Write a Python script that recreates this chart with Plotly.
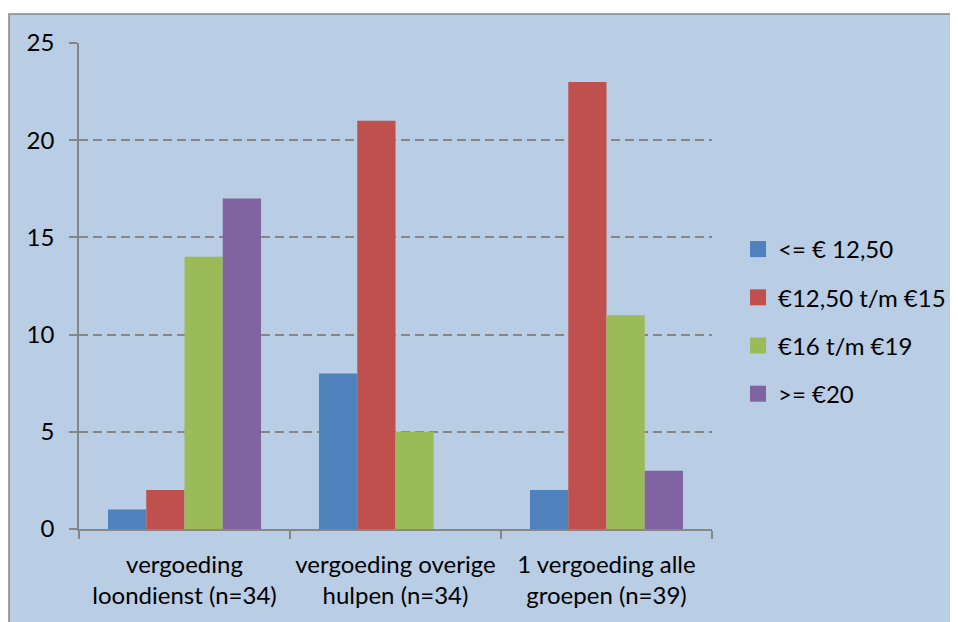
import plotly.graph_objects as go

categories = ["vergoeding<br>loondienst (n=34)",
              "vergoeding overige<br>hulpen (n=34)",
              "1 vergoeding alle<br>groepen (n=39)"]
series_names = ["<= € 12,50", "€12,50 t/m €15", "€16 t/m €19", ">= €20"]
s1 = [1, 8, 2]
s2 = [2, 21, 23]
s3 = [14, 5, 11]
s4 = [17, 0, 3]
colors = ["#4F81BD", "#C0504D", "#9BBB59", "#8064A2"]
y_ticks = [0, 5, 10, 15, 20, 25]

OFF = 8  # page body margin
W, H = 958 - OFF, 622 - OFF
L, R, T, B = 79 - OFF, 712 - OFF, 43 - OFF, 529 - OFF
pw, ph = R - L, B - T

FONT = "Lato"
FS = 24
fig = go.Figure()
for i, (name, vals) in enumerate(zip(series_names, [s1, s2, s3, s4])):
    fig.add_trace(go.Bar(x=categories, y=vals, name=name,
                         marker=dict(color=colors[i], line=dict(width=0)),
                         showlegend=False))
for i, name in enumerate(series_names):
    fig.add_trace(go.Scatter(x=[None], y=[None], mode="markers", name=name,
                             legendgroup=f"g{i}",
                             marker=dict(symbol="square", size=16, color=colors[i])))

fig.add_shape(type="rect", xref="paper", yref="paper",
              x0=(9 - OFF - L) / pw, x1=(W + 20 - L) / pw,
              y0=(B - (H + 20)) / ph, y1=(B - (14 - OFF)) / ph,
              fillcolor="#B9CDE5", line=dict(color="#878787", width=1.5),
              layer="below")

fig.update_layout(
    width=W, height=H,
    margin=dict(l=L, r=W - R, t=T, b=H - B, pad=0, autoexpand=False),
    paper_bgcolor="white", plot_bgcolor="white",
    barmode="group", bargap=0.275, bargroupgap=0,
    font=dict(family=FONT, size=FS, color="black"),
    showlegend=True,
    legend=dict(x=(738 - OFF - L) / pw, xanchor="left",
                y=(B - (227 - OFF)) / ph, yanchor="top",
                bgcolor="rgba(0,0,0,0)", tracegroupgap=14,
                font=dict(family=FONT, size=FS, color="black")),
    xaxis=dict(showline=True, linecolor="#868686", linewidth=1.5,
               ticks="outside", tickson="boundaries", ticklen=8,
               tickcolor="#868686", tickwidth=1.5, showgrid=False,
               automargin=False,
               ticklabelstandoff=13, tickfont=dict(size=FS), fixedrange=True),
    yaxis=dict(range=[0, 25], tickvals=y_ticks, showline=True,
               linecolor="#868686", linewidth=1.5, ticks="outside", ticklen=8,
               tickcolor="#868686", tickwidth=1.5, showgrid=True,
               gridcolor="#868686", gridwidth=1.5, griddash="9px,5px",
               automargin=False,
               zeroline=False, ticklabelstandoff=10, tickfont=dict(size=FS)),
)

fig.write_html("out.html")
